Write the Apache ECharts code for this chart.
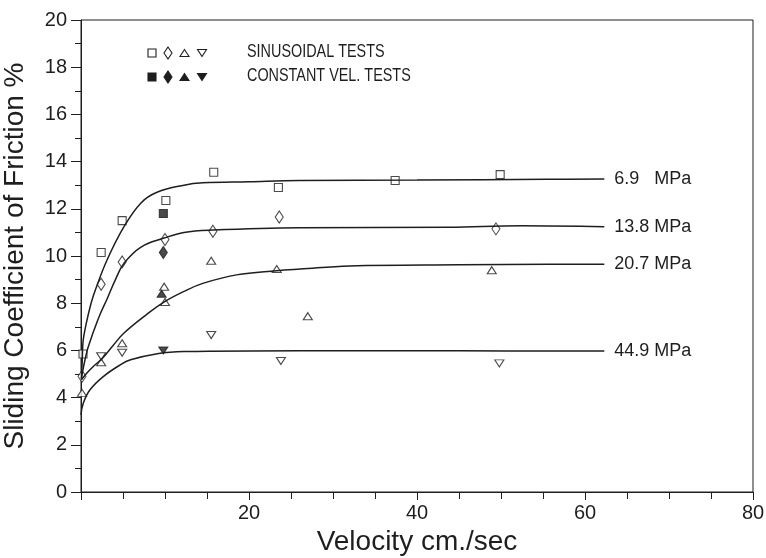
<!DOCTYPE html>
<html>
<head>
<meta charset="utf-8">
<script src="https://cdn.jsdelivr.net/npm/echarts@6/dist/echarts.min.js"></script>
<style>
  html, body { margin: 0; padding: 0; background: #fff; }
  #chart { width: 766px; height: 558px; }
</style>
</head>
<body>
<div id="chart"></div>
<script>
// fitted curves [velocity, friction %]
var curve69 = [[0.05, 4.8], [0.15, 5.6], [0.25, 6.4], [0.6, 7.1], [1.2, 8.0], [1.75, 8.6], [3.1, 9.83], [5.1, 11.23], [7.14, 12.25], [9.05, 12.7], [12.26, 13.0], [14.5, 13.1], [20, 13.15], [26, 13.2], [40, 13.22], [55.6, 13.25], [62.3, 13.26]]
var curve138 = [[0.05, 4.8], [0.3, 5.3], [0.7, 5.95], [1.15, 6.45], [1.55, 6.86], [2.3, 7.55], [3.13, 8.2], [4.1, 9.0], [5.12, 9.69], [7.1, 10.37], [9.9, 10.76], [12.26, 11.0], [15.7, 11.1], [26, 11.2], [43.8, 11.22], [52.4, 11.28], [62.3, 11.24]]
var curve207 = [[0.05, 4.75], [0.6, 5.0], [1.4, 5.3], [2.5, 5.65], [3.8, 6.2], [5.12, 6.74], [7.9, 7.55], [9.88, 8.05], [12.26, 8.5], [14.5, 8.84], [18.5, 9.2], [23.3, 9.38], [26.1, 9.45], [32, 9.58], [45, 9.63], [55.8, 9.65], [62.3, 9.65]]
var curve449 = [[0, 3.27], [0.27, 3.76], [1.07, 4.33], [2.65, 4.89], [4.64, 5.38], [5.9, 5.6], [9.08, 5.86], [12.26, 5.95], [26.1, 5.99], [45, 5.98], [62.3, 5.97]]
var curveNames = ['6.9   MPa', '13.8 MPa', '20.7 MPa', '44.9 MPa']

// sinusoidal tests (open symbols)
var sinSquare = [[0.24, 5.85], [2.4, 10.15], [4.9, 11.5], [10.1, 12.35], [15.8, 13.55], [23.5, 12.9], [37.4, 13.2], [49.9, 13.45]]
var sinDiamond = [[0.12, 4.9], [2.4, 8.8], [4.9, 9.75], [10.0, 10.7], [15.7, 11.05], [23.6, 11.65], [49.4, 11.15]]
var sinUp = [[0.12, 4.2], [2.4, 5.5], [4.9, 6.3], [9.9, 8.7], [10.0, 8.05], [15.5, 9.8], [23.3, 9.45], [27.0, 7.45], [48.9, 9.4]]
var sinDown = [[2.4, 5.75], [4.9, 5.9], [15.5, 6.65], [23.8, 5.55], [49.8, 5.45]]
// constant velocity tests (filled symbols)
var constSquare = [[9.8, 11.8]]
var constDiamond = [[9.8, 10.15]]
var constUp = [[9.6, 8.4]]
var constDown = [[9.8, 6.0]]

var legendTexts = ['SINUSOIDAL TESTS', 'CONSTANT VEL. TESTS']

var ink = '#1e1e1e'
var sans = 'Liberation Sans, Arial, sans-serif'

function curveSeries(name, data) {
  return {
    name: name,
    type: 'line',
    data: data,
    smooth: 0.4,
    showSymbol: false,
    silent: true,
    lineStyle: { color: ink, width: 1.5 },
    endLabel: {
      show: true,
      formatter: name,
      distance: 10,
      color: ink,
      fontSize: 18,
      fontFamily: sans,
    },
  }
}

function markSeries(data, symbol, filled, size, rotate) {
  return {
    type: 'scatter',
    data: data,
    symbol: symbol,
    symbolSize: size,
    symbolRotate: rotate || 0,
    silent: true,
    itemStyle: {
      color: filled ? ink : '#fff',
      borderColor: ink,
      borderWidth: 1.1,
    },
  }
}

// legend drawn with graphic shapes (one label per row of four symbols)
function legendRow(y, filled) {
  var fill = filled ? ink : '#fff'
  var st = { fill: fill, stroke: ink, lineWidth: 1.1 }
  return [
    { type: 'rect', shape: { x: 148, y: y - 4, width: 8, height: 8 }, style: st },
    { type: 'polygon', shape: { points: [[168, y - 6], [172, y], [168, y + 6], [164, y]] }, style: st },
    { type: 'polygon', shape: { points: [[184.5, y - 3.5], [189, y + 3.5], [180, y + 3.5]] }, style: st },
    { type: 'polygon', shape: { points: [[197.5, y - 3.5], [206.5, y - 3.5], [202, y + 3.5]] }, style: st },
    {
      type: 'text',
      x: 247,
      y: y - 10,
      scaleX: 0.8,
      style: { text: legendTexts[filled ? 1 : 0], fill: ink, font: '18px "Liberation Sans", Arial' },
    },
  ]
}

var myChart = echarts.init(document.getElementById('chart'))
var option = {
  animation: false,
  backgroundColor: '#fff',
  grid: {
    left: 81,
    right: 13,
    top: 20,
    bottom: 66,
    outerBoundsMode: 'none',
    containLabel: false,
    show: true,
    borderColor: ink,
    borderWidth: 1,
  },
  xAxis: {
    type: 'value',
    min: 0,
    max: 80,
    interval: 20,
    name: 'Velocity cm./sec',
    nameLocation: 'middle',
    nameGap: 33,
    nameTextStyle: { color: ink, fontSize: 28, fontFamily: sans },
    axisLine: { lineStyle: { color: ink, width: 1 } },
    axisTick: { show: true, length: 8, lineStyle: { color: ink } },
    minorTick: { show: true, splitNumber: 4, length: 7, lineStyle: { color: ink } },
    splitLine: { show: false },
    axisLabel: {
      color: ink,
      fontSize: 20,
      fontFamily: sans,
      margin: 11,
      formatter: function (v) {
        return v === 0 ? '' : v
      },
    },
  },
  yAxis: {
    type: 'value',
    min: 0,
    max: 20,
    interval: 2,
    name: 'Sliding Coefficient of Friction %',
    nameLocation: 'middle',
    nameGap: 52,
    nameTextStyle: { color: ink, fontSize: 28, fontFamily: sans },
    axisLine: { show: true, lineStyle: { color: ink, width: 1 } },
    axisTick: { show: true, length: 10, lineStyle: { color: ink } },
    minorTick: { show: true, splitNumber: 2, length: 6, lineStyle: { color: ink } },
    splitLine: { show: false },
    axisLabel: { color: ink, fontSize: 20, fontFamily: sans, margin: 14 },
  },
  graphic: legendRow(53, false).concat(legendRow(77, true)),
  series: [
    curveSeries(curveNames[0], curve69),
    curveSeries(curveNames[1], curve138),
    curveSeries(curveNames[2], curve207),
    curveSeries(curveNames[3], curve449),
    markSeries(sinSquare, 'rect', false, 8),
    markSeries(sinDiamond, 'diamond', false, [8, 12]),
    markSeries(sinUp, 'triangle', false, [9, 7]),
    markSeries(sinDown, 'triangle', false, [9, 7], 180),
    markSeries(constSquare, 'rect', true, 8),
    markSeries(constDiamond, 'diamond', true, [8, 12]),
    markSeries(constUp, 'triangle', true, [9, 7]),
    markSeries(constDown, 'triangle', true, [9, 7], 180),
  ],
}
myChart.setOption(option, true)
</script>
</body>
</html>
